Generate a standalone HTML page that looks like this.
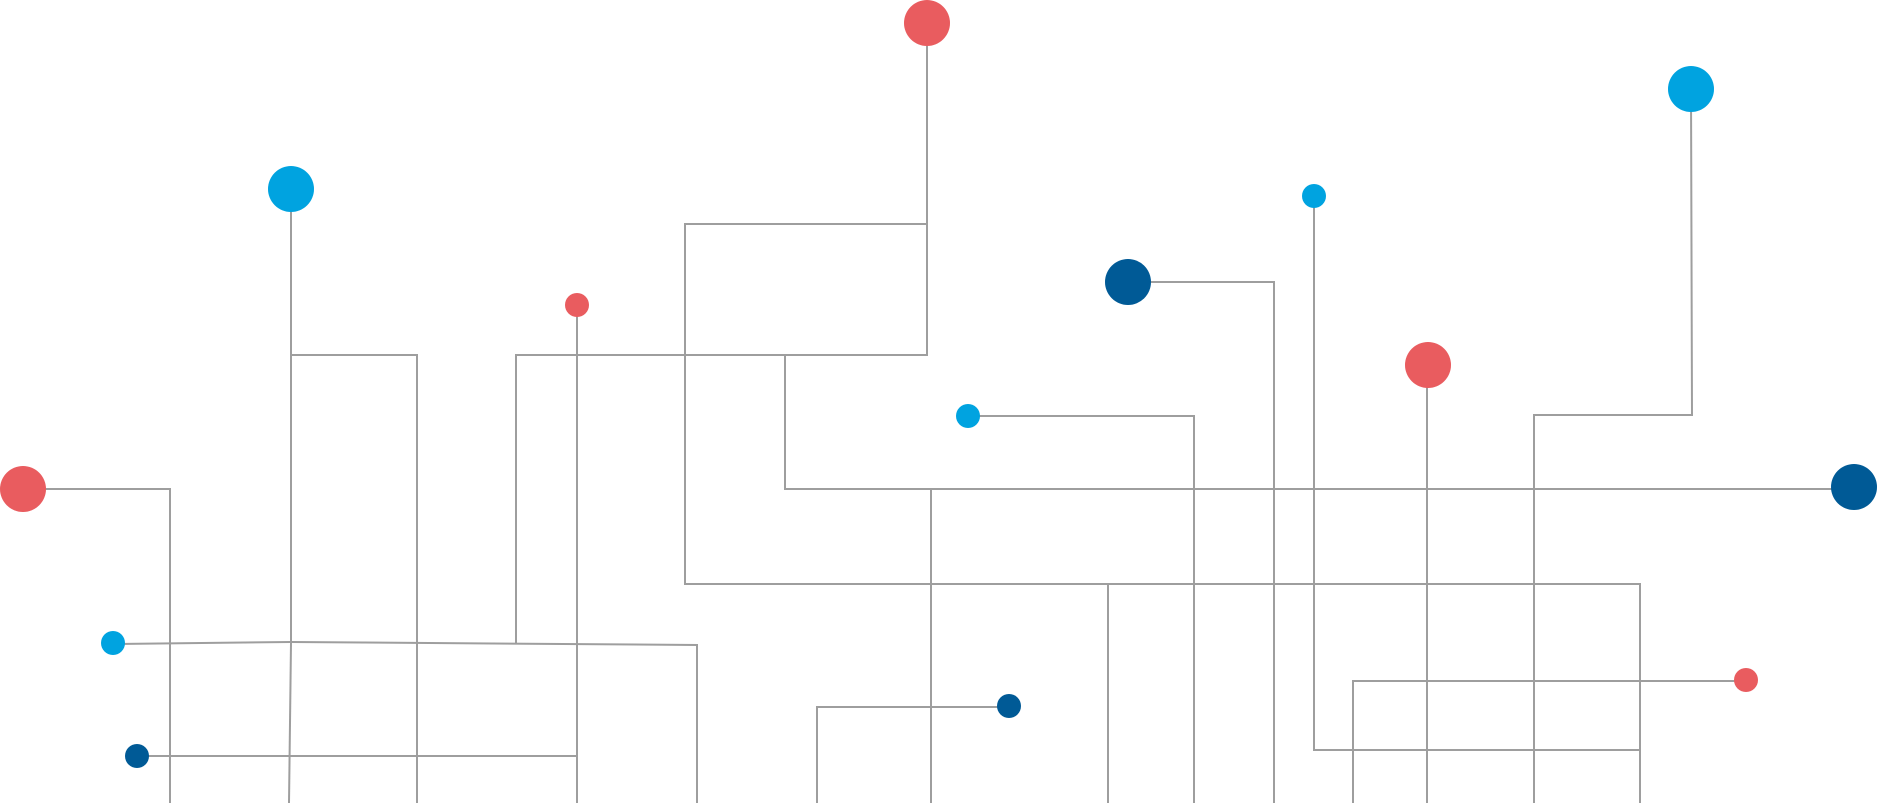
<!DOCTYPE html>
<html><head><meta charset="utf-8"><style>
html,body{margin:0;padding:0;background:#fff;width:1877px;height:803px;overflow:hidden}
svg{display:block}
</style></head><body>
<svg width="1877" height="803" viewBox="0 0 1877 803" xmlns="http://www.w3.org/2000/svg">
<g fill="none" stroke="#9e9e9e" stroke-width="2">
<polyline points="23,489 170,489 170,803"/>
<line x1="291" y1="189" x2="291" y2="643"/>
<line x1="291" y1="643" x2="289" y2="803"/>
<polyline points="291,355 417,355 417,803"/>
<polyline points="113,644 291,642 697,645 697,803"/>
<line x1="137" y1="756" x2="577" y2="756"/>
<line x1="577" y1="305" x2="577" y2="803"/>
<polyline points="516,643 516,355 927,355 927,23"/>
<polyline points="927,224 685,224 685,584 1640,584 1640,803"/>
<polyline points="785,355 785,489 1854,489"/>
<line x1="931" y1="489" x2="931" y2="803"/>
<polyline points="1009,707 817,707 817,803"/>
<polyline points="968,416 1194,416 1194,803"/>
<line x1="1108" y1="584" x2="1108" y2="803"/>
<polyline points="1128,282 1274,282 1274,803"/>
<polyline points="1314,196 1314,750 1640,750"/>
<line x1="1427" y1="365" x2="1427" y2="803"/>
<polyline points="1691,89 1692,415 1534,415 1534,803"/>
<polyline points="1746,681 1353,681 1353,803"/>
</g>
<g>
<circle cx="23" cy="489" r="23" fill="#e95c5f"/>
<circle cx="291" cy="189" r="23" fill="#00a3e0"/>
<circle cx="113" cy="643" r="12" fill="#00a3e0"/>
<circle cx="137" cy="756" r="12" fill="#005a96"/>
<circle cx="577" cy="305" r="12" fill="#e95c5f"/>
<circle cx="927" cy="23" r="23" fill="#e95c5f"/>
<circle cx="968" cy="416" r="12" fill="#00a3e0"/>
<circle cx="1009" cy="706" r="12" fill="#005a96"/>
<circle cx="1128" cy="282" r="23" fill="#005a96"/>
<circle cx="1314" cy="196" r="12" fill="#00a3e0"/>
<circle cx="1428" cy="365" r="23" fill="#e95c5f"/>
<circle cx="1691" cy="89" r="23" fill="#00a3e0"/>
<circle cx="1854" cy="487" r="23" fill="#005a96"/>
<circle cx="1746" cy="680" r="12" fill="#e95c5f"/>
</g>
</svg>
</body></html>
